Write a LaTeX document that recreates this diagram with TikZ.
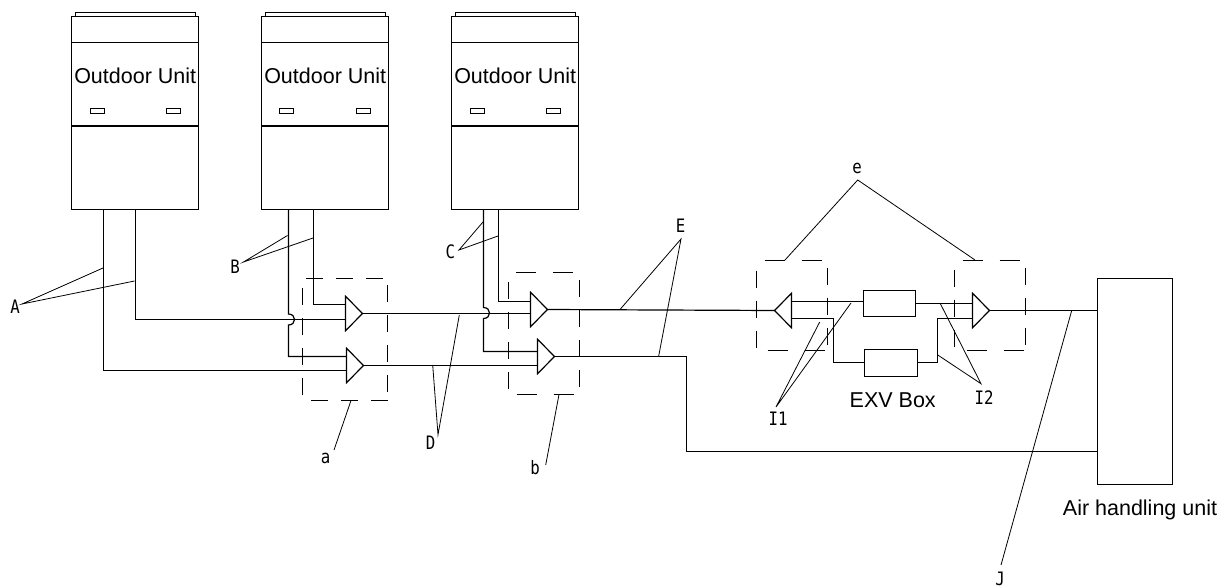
\documentclass[tikz,border=0pt]{standalone}
\usepackage{fontspec}
\usepackage{tikz}
\usetikzlibrary{shapes.geometric, positioning}
\setmainfont{Liberation Sans}
\newfontfamily\tagfont[FakeStretch=0.85]{DejaVu Sans Mono}

\tikzset{
    box/.style={draw, line width=1.2pt, inner sep=0pt, outer sep=0pt, rectangle},
    slot/.style={box, line width=0.9pt, minimum width=14pt, minimum height=5pt},
    unit/.style={box, minimum width=127pt, minimum height=193pt},
    lid/.style={box, minimum width=120pt, minimum height=4pt},
    valve/.style={box, minimum width=52pt, minimum height=26pt},
    branch/.style={draw, line width=1.2pt, isosceles triangle, isosceles triangle stretches, inner sep=0pt, outer sep=0pt, minimum width=34.5pt, minimum height=17pt},
    groupbox/.style={rectangle, inner sep=0pt, outer sep=0pt},
    sidev/.style={line width=1.2pt, dash pattern=on 17pt off 13pt, dash phase=#1},
    sideh/.style={line width=1.2pt, dash pattern=on 20pt off 17pt, dash phase=#1},
    pipe/.style={line width=1.2pt},
    leader/.style={line width=0.8pt},
    tag/.style={inner sep=0pt, font=\tagfont\fontsize{18.5}{20}\selectfont},
    caption/.style={inner sep=0pt, font=\fontsize{21.5}{24}\selectfont}
}

\begin{document}
\begin{tikzpicture}[x=1pt, y=-1pt]
        \useasboundingbox (0, 0) rectangle (1228, 588);

        % outdoor units
        \node[unit] (u1) at (135, 113) {};
        \node[unit] (u2) at (325, 113) {};
        \node[unit] (u3) at (515, 113) {};
        \node[lid] (c1) at (135.5, 14.5) {};
        \node[lid] (c2) at (325.5, 14.5) {};
        \node[lid] (c3) at (515.5, 14.5) {};
        \draw[pipe] (71.5, 42.5) -- (198.5, 42.5);
        \draw[pipe] (261.5, 42.5) -- (388.5, 42.5);
        \draw[pipe] (451.5, 42.5) -- (578.5, 42.5);
        \draw[line width=2.2pt] (71.5, 126) -- (198.5, 126);
        \draw[line width=2.2pt] (261.5, 126) -- (388.5, 126);
        \draw[line width=2.2pt] (451.5, 126) -- (578.5, 126);
        \node[caption] (t1) at (135.2, 76) {Outdoor Unit};
        \node[caption] (t2) at (325.2, 76) {Outdoor Unit};
        \node[caption] (t3) at (515.2, 76) {Outdoor Unit};
        \node[slot] (s1) at (97.5, 111) {};
        \node[slot] (s2) at (173.5, 111) {};
        \node[slot] (s3) at (286.5, 111) {};
        \node[slot] (s4) at (363.5, 111) {};
        \node[slot] (s5) at (477.5, 111) {};
        \node[slot] (s6) at (553.5, 111) {};

        % branch joints
        \node[branch, anchor=lower side] (a1) at (345.5, 313.5) {};
        \node[branch, anchor=lower side] (a2) at (346.5, 365.5) {};
        \node[branch, anchor=lower side] (b1) at (530.5, 309.5) {};
        \node[branch, anchor=lower side] (b2) at (537.5, 356.5) {};
        \node[branch, shape border rotate=180, anchor=lower side] (e1) at (791.5, 310.5) {};
        \node[branch, anchor=lower side] (e2) at (972.5, 310.5) {};
        \node[valve] (v1) at (889.5, 303.5) {};
        \node[valve, minimum width=53pt, minimum height=27pt] (v2) at (891, 363) {};
        \node[box, minimum width=75pt, minimum height=206pt] (ahu) at (1135, 381.5) {};

        % dashed groups
        \node[groupbox, minimum width=85pt, minimum height=122pt] (ga) at (345, 339.5) {};
        \node[groupbox, minimum width=71pt, minimum height=122pt] (gb) at (544, 333.5) {};
        \node[groupbox, minimum width=71pt, minimum height=90pt] (ge1) at (792, 305.5) {};
        \node[groupbox, minimum width=71pt, minimum height=90pt] (ge2) at (990, 305.5) {};
        \draw[sidev=26.3] (ga.north west) -- (ga.north east);
        \draw[sidev=21.3] (ga.south west) -- (ga.south east);
        \draw[sidev=20.3] (ga.north west) -- (ga.south west);
        \draw[sidev=23.3] (ga.north east) -- (ga.south east);
        \draw[sideh=29.7] (gb.north west) -- (gb.north east);
        \draw[sideh=28.7] (gb.south west) -- (gb.south east);
        \draw[sidev=20.3] (gb.north west) -- (gb.south west);
        \draw[sidev=22.3] (gb.north east) -- (gb.south east);
        \draw[sideh=29] (ge1.north west) -- (ge1.north east);
        \draw[sideh=26] (ge1.south west) -- (ge1.south east);
        \draw[sidev=20] (ge1.north west) -- (ge1.south west);
        \draw[sidev=23] (ge1.north east) -- (ge1.south east);
        \draw[sideh=29] (ge2.north west) -- (ge2.north east);
        \draw[sideh=25] (ge2.south west) -- (ge2.south east);
        \draw[sidev=21] (ge2.north west) -- (ge2.south west);
        \draw[sidev=23] (ge2.north east) -- (ge2.south east);

        % pipes from the outdoor units
        \coordinate (pa1) at (103.5, 370.5);
        \coordinate (pa2) at (135.5, 319.5);
        \coordinate (pb1) at (288.5, 314);
        \coordinate (pb2) at (288.5, 325);
        \coordinate (pb3) at (313.5, 304.5);
        \coordinate (pc1) at (483.5, 307.5);
        \coordinate (pc2) at (483.5, 318.5);
        \coordinate (pc3) at (498.5, 301.5);
        \draw[pipe] (pa1 |- u1.south) -- (pa1) -- (a2.lower side |- pa1);
        \draw[pipe] (pa2 |- u1.south) -- (pa2) -- (a1.lower side |- pa2);
        \draw[pipe] (pb1 |- u2.south) -- (pb1) .. controls (296.5, 314) and (296.5, 325) .. (pb2) |- (a2.lower side |- 0, 356.5);
        \draw[pipe] (pb3 |- u2.south) -- (pb3) -- (a1.lower side |- pb3);
        \draw[pipe] (pc1 |- u3.south) -- (pc1) .. controls (491.5, 307.5) and (491.5, 318.5) .. (pc2) |- (b2.lower side |- 0, 351.5);
        \draw[pipe] (pc3 |- u3.south) -- (pc3) -- (b1.lower side |- pc3);

        % main lines
        \draw[pipe] (a1.apex) -- (b1.lower side |- a1.apex);
        \draw[pipe] (a2.apex) -- (b2.lower side |- a2.apex);
        \draw[pipe] (b1.apex) -- (e1.apex);
        \coordinate (rb) at (686.5, 451.5);
        \draw[pipe] (b2.apex) -| (rb) -- (ahu.west |- rb);
        \draw[pipe] (e2.apex) -- (ahu.west |- e2.apex);

        % inside the box
        \coordinate (ev1) at (833.5, 318.5);
        \coordinate (ev2) at (937.5, 318.5);
        \coordinate (ev3) at (833.5, 362.5);
        \coordinate (ev4) at (937.5, 362.5);
        \draw[pipe] (e1.lower side |- 0, 301.5) -- (v1.west |- 0, 301.5);
        \draw[pipe] (e1.lower side |- ev1) -- (ev1) -- (ev3) -- (v2.west |- ev3);
        \draw[pipe] (v1.east) -- (e2.lower side |- v1.east);
        \draw[pipe] (v2.east |- ev4) -- (ev4) -- (ev2) -- (e2.lower side |- ev2);

        % labels and their leaders
        \node[tag] (la) at (15, 306.7) {A};
        \node[tag] (lb) at (235, 266.7) {B};
        \node[tag] (lc) at (450.3, 252) {C};
        \node[tag] (ld) at (430.7, 443) {D};
        \node[tag] (le) at (680.7, 226) {E};
        \node[tag] (lga) at (325.7, 458) {a};
        \node[tag] (lgb) at (535, 468) {b};
        \node[tag] (lge) at (857, 168) {e};
        \node[tag] (li1) at (778, 419) {I1};
        \node[tag] (li2) at (984, 397.7) {I2};
        \node[tag] (lj) at (1000, 579) {J};
        \node[caption] (t4) at (892.7, 400) {EXV Box};
        \node[caption] (t5) at (1140, 510) {Air handling unit};

        \draw[leader] (103, 268) -- (22, 304) -- (134.5, 281);
        \draw[leader] (287.5, 235.5) -- (243.5, 262) -- (313, 238);
        \draw[leader] (483, 222) -- (459, 250) -- (498, 236);
        \draw[leader] (459.3, 315) -- (438, 434.7) -- (432.7, 365);
        \draw[leader] (620, 309.5) -- (681, 239) -- (658.7, 356);
        \draw[leader] (785, 260) -- (857.7, 180) -- (975, 260);
        \draw[leader] (819.7, 322) -- (776, 407) -- (851, 303);
        \draw[leader] (940, 303) -- (981, 383.7) -- (937.3, 354.7);
        \draw[leader] (334, 450) -- (351, 400.5);
        \draw[leader] (545.7, 465) -- (559, 394.5);
        \draw[leader] (1001, 565) -- (1071.7, 310.5);
    \end{tikzpicture}
\end{document}
